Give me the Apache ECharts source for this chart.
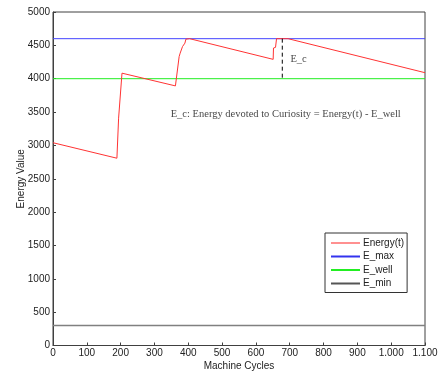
<!DOCTYPE html>
<html>
<head>
<meta charset="utf-8">
<script src="https://cdn.jsdelivr.net/npm/echarts@6/dist/echarts.min.js"></script>
<style>html,body{margin:0;padding:0;background:#fff;}#c{width:438px;height:373px;}</style>
</head>
<body>
<div id="c"></div>
<script>
// Energy(t): [machine cycle, energy]
const energyX = [0, 189, 194, 196, 204, 362, 373, 376, 383, 390, 393, 397, 404, 651, 652, 655, 658, 661, 695, 1100];
const energyY = [3040, 2808, 3408, 3420, 4083, 3892, 4332, 4383, 4482, 4533, 4593, 4600, 4600, 4290, 4460, 4460, 4470, 4600, 4600, 4090];
const E_max = 4600;
const E_well = 4000;
const E_min = 300;
const xRange = [0, 1100];
const ecX = 678;               // dashed E_c marker position
const labelEc = {x: 702, y: 4290, text: 'E_c'};
const labelNote = {x: 348, y: 3472, text: 'E_c: Energy devoted to Curiosity = Energy(t) - E_well'};

const energyData = energyX.map((x, i) => [x, energyY[i]]);
const hline = v => xRange.map(x => [x, v]);

const chart = echarts.init(document.getElementById('c'), null, {renderer: 'canvas'});
const axisColor = '#404040';
const font = 'Liberation Sans, Arial, sans-serif';
chart.setOption({
  backgroundColor: '#fff',
  animation: false,
  grid: {left: 53, right: 13, top: 12, bottom: 27.5, outerBoundsMode: 'none', containLabel: false,
    show: true, borderColor: axisColor, borderWidth: 1, backgroundColor: 'transparent'},
  xAxis: {
    type: 'value', min: 0, max: 1100, interval: 100,
    name: 'Machine Cycles', nameLocation: 'middle', nameGap: 16, nameMoveOverlap: false,
    nameTextStyle: {fontFamily: font, fontSize: 10, color: '#222'},
    axisLine: {show: true, lineStyle: {color: axisColor}},
    axisTick: {show: true, inside: true, length: 3, lineStyle: {color: axisColor}},
    axisLabel: {fontFamily: font, fontSize: 10, color: '#222', margin: 3, hideOverlap: false,
      formatter: v => v >= 1000 ? String(v).replace(/(\d)(\d{3})$/, '$1.$2') : String(v)},
    splitLine: {show: false}
  },
  yAxis: {
    type: 'value', min: 0, max: 5000, interval: 500,
    name: 'Energy Value', nameLocation: 'middle', nameGap: 27, nameMoveOverlap: false,
    nameTextStyle: {fontFamily: font, fontSize: 10, color: '#222'},
    axisLine: {show: true, lineStyle: {color: axisColor}},
    axisTick: {show: true, inside: true, length: 3, lineStyle: {color: axisColor}},
    axisLabel: {fontFamily: font, fontSize: 10, color: '#222', margin: 3, formatter: v => String(v)},
    splitLine: {show: false}
  },
  legend: {
    data: [
      {name: 'Energy(t)', itemStyle: {color: '#ff9090'}},
      {name: 'E_max', itemStyle: {color: '#3333ee'}},
      {name: 'E_well', itemStyle: {color: '#22ee22'}},
      {name: 'E_min', itemStyle: {color: '#555555'}}
    ],
    icon: 'rect',
    orient: 'vertical', left: 325, top: 233, width: 80,
    padding: [4, 3, 3, 6], itemGap: 1.5, itemWidth: 29, itemHeight: 2,
    borderColor: '#333', borderWidth: 1, backgroundColor: '#fff',
    textStyle: {fontFamily: font, fontSize: 10, color: '#222', padding: [0, 0, 0, -2], lineHeight: 12}
  },
  series: [
    {name: 'E_min', type: 'line', data: hline(E_min), symbol: 'none', lineStyle: {color: '#808080', width: 1.5}, itemStyle: {color: '#808080'}},
    {name: 'E_well', type: 'line', data: hline(E_well), symbol: 'none', lineStyle: {color: '#22ee22', width: 1}, itemStyle: {color: '#22ee22'}},
    {name: 'E_max', type: 'line', data: hline(E_max), symbol: 'none', lineStyle: {color: '#4444ff', width: 1}, itemStyle: {color: '#4444ff'}},
    {name: 'Energy(t)', type: 'line', data: energyData, symbol: 'none', lineStyle: {color: '#ff3333', width: 1}, itemStyle: {color: '#ff8888'}, z: 5},
    {name: 'Ec', type: 'line', data: [[ecX, E_max], [ecX, E_well]], symbol: 'none', lineStyle: {color: '#000', width: 1, type: [4, 3]}, z: 6},
    {name: 'labels', type: 'scatter', symbolSize: 0, z: 7,
      data: [[labelEc.x, labelEc.y, labelEc.text], [labelNote.x, labelNote.y, labelNote.text]],
      label: {show: true, position: 'right', distance: 0, formatter: p => p.data[2],
        fontFamily: 'Liberation Serif, Times New Roman, serif', fontSize: 10.5, color: '#111'}}
  ]
});
</script>
</body>
</html>
